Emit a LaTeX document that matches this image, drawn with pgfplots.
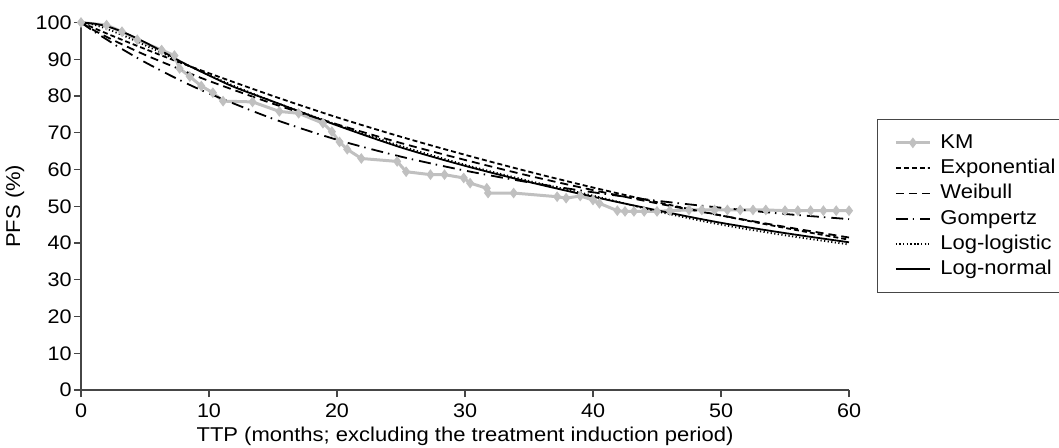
\documentclass[border=0pt]{standalone}
\usepackage{fontspec}
\setmainfont{Liberation Sans}[FakeStretch=1.1]
\usepackage{pgfplots}
\usepackage{pgfplotstable}
\pgfplotsset{compat=1.18}
\definecolor{kmgray}{RGB}{192,192,192}
\definecolor{axgray}{RGB}{70,70,70}

\pgfplotstableread{
x y
0 100
2.0 99.3
3.2 97.5
4.4 95.3
6.3 92.5
7.3 91.0
7.7 87.5
8.5 85.3
9.4 82.7
10.3 80.9
11.1 78.6
13.4 78.4
15.5 75.8
17.0 75.3
18.9 72.6
19.6 70.3
20.2 67.5
20.8 65.5
21.9 63.0
24.7 62.2
25.4 59.4
27.3 58.6
28.4 58.6
29.9 57.7
30.4 56.3
31.7 54.9
31.8 53.6
33.8 53.6
37.2 52.6
37.9 52.2
39.0 52.8
40.0 51.7
40.5 50.8
41.9 48.8
42.5 48.6
43.2 48.6
44.0 48.6
45.0 48.6
46.0 48.8
47.5 49.0
48.5 49.0
49.5 49.0
50.5 49.0
51.5 49.0
52.5 49.0
53.5 49.0
55.0 48.8
56.0 48.8
57.0 48.8
58.0 48.8
59.0 48.8
60.0 48.8
}\km

\pgfplotstableread{
x y
0 100
2.5 96.3
5 92.8
7.5 89.4
10 86.2
15 80.0
20 74.2
25 68.9
30 64.0
35 59.4
40 55.1
45 51.1
50 47.5
55 44.1
60 40.9
}\expo

\pgfplotstableread{
x y
0 100
1 97.9
2 96.1
3 94.4
5 91.2
7.5 87.6
10 84.1
15 77.9
20 72.3
25 67.2
30 62.6
35 58.3
40 54.4
45 50.8
50 47.5
55 44.4
60 41.5
}\weib

\pgfplotstableread{
x y
0 100
1 97.6
2 95.4
3 93.2
5 89.2
7.5 84.7
10 80.7
15 73.8
20 68.1
25 63.5
30 59.7
35 56.5
40 53.8
45 51.5
50 49.6
55 47.9
60 46.5
}\gomp

\pgfplotstableread{
x y
0 100
1 99.4
2 98.3
3 96.9
4 95.4
5 93.8
6 92.2
8 88.9
10 85.7
12 82.7
15 78.5
20 72.2
25 66.4
30 61.3
35 56.9
40 52.9
45 48.6
50 45.0
55 42.1
60 39.6
}\llog

\pgfplotstableread{
x y
0 100
1 99.7
2 99.0
3 97.8
4 96.3
5 94.6
6 92.8
8 89.0
10 85.6
12 82.4
15 78.5
20 72.0
25 66.0
30 61.0
35 56.6
40 52.6
45 48.9
50 45.5
55 42.7
60 40.2
}\lnorm

\begin{document}
\begin{tikzpicture}
\path[use as bounding box] (-40.5pt,-28.5pt) rectangle (489pt,195pt);
\begin{axis}[
  at={(0,0)}, anchor=south west,
  scale only axis,
  width=384pt, height=183.75pt,
  xmin=0, xmax=60, ymin=0, ymax=100,
  xtick={0,10,...,60}, ytick={0,10,...,100},
  axis lines=left,
  axis line style={-, draw=axgray, line width=0.9pt},
  tick style={draw=axgray, line width=0.7pt},
  tick align=outside,
  major tick length=3.5pt,
  /pgf/number format/assume math mode=true,
  tick label style={font=\fontsize{9.8}{11}\selectfont},
  yticklabel style={inner xsep=1pt},
  label style={font=\fontsize{10}{12}\selectfont},
  xlabel={TTP (months; excluding the treatment induction period)},
  ylabel={PFS (\%)},
  xlabel style={at={(axis description cs:0.5,0)}, anchor=center, yshift=-23pt},
  ylabel style={at={(axis description cs:-0.086,0.5)}, anchor=center},
  clip=false,
  legend style={at={(axis description cs:1,1)}, anchor=north west,
    xshift=13.85pt, yshift=-48.25pt,
    draw=axgray, line width=0.6pt, fill=white,
    font=\fontsize{10}{12}\selectfont,
    inner xsep=8.5pt, inner ysep=5.3pt, row sep=0pt,
    nodes={text height=7.7pt, text depth=2.25pt, inner ysep=1.35pt, inner xsep=4.5pt, text width=64pt, align=left}},
  legend cell align=left,
]
\addplot[kmgray, line width=1.5pt, mark=diamond*, mark size=2.3pt, mark options={fill=kmgray, draw=kmgray, line width=0.5pt}] table {\km};
\addlegendentry{KM}
\addplot[black, line width=0.9pt, smooth, dash pattern=on 2.5pt off 1.5pt] table {\expo};
\addlegendentry{Exponential}
\addplot[black, line width=0.9pt, smooth, dash pattern=on 4pt off 2.5pt] table {\weib};
\addlegendentry{Weibull}
\addplot[black, line width=0.9pt, smooth, dash pattern=on 6pt off 2.5pt on 0.75pt off 3pt] table {\gomp};
\addlegendentry{Gompertz}
\addplot[black, line width=0.9pt, smooth, dash pattern=on 0.6pt off 1.2pt] table {\llog};
\addlegendentry{Log-logistic}
\addplot[black, line width=0.9pt, smooth] table {\lnorm};
\addlegendentry{Log-normal}
\end{axis}
\end{tikzpicture}
\end{document}
